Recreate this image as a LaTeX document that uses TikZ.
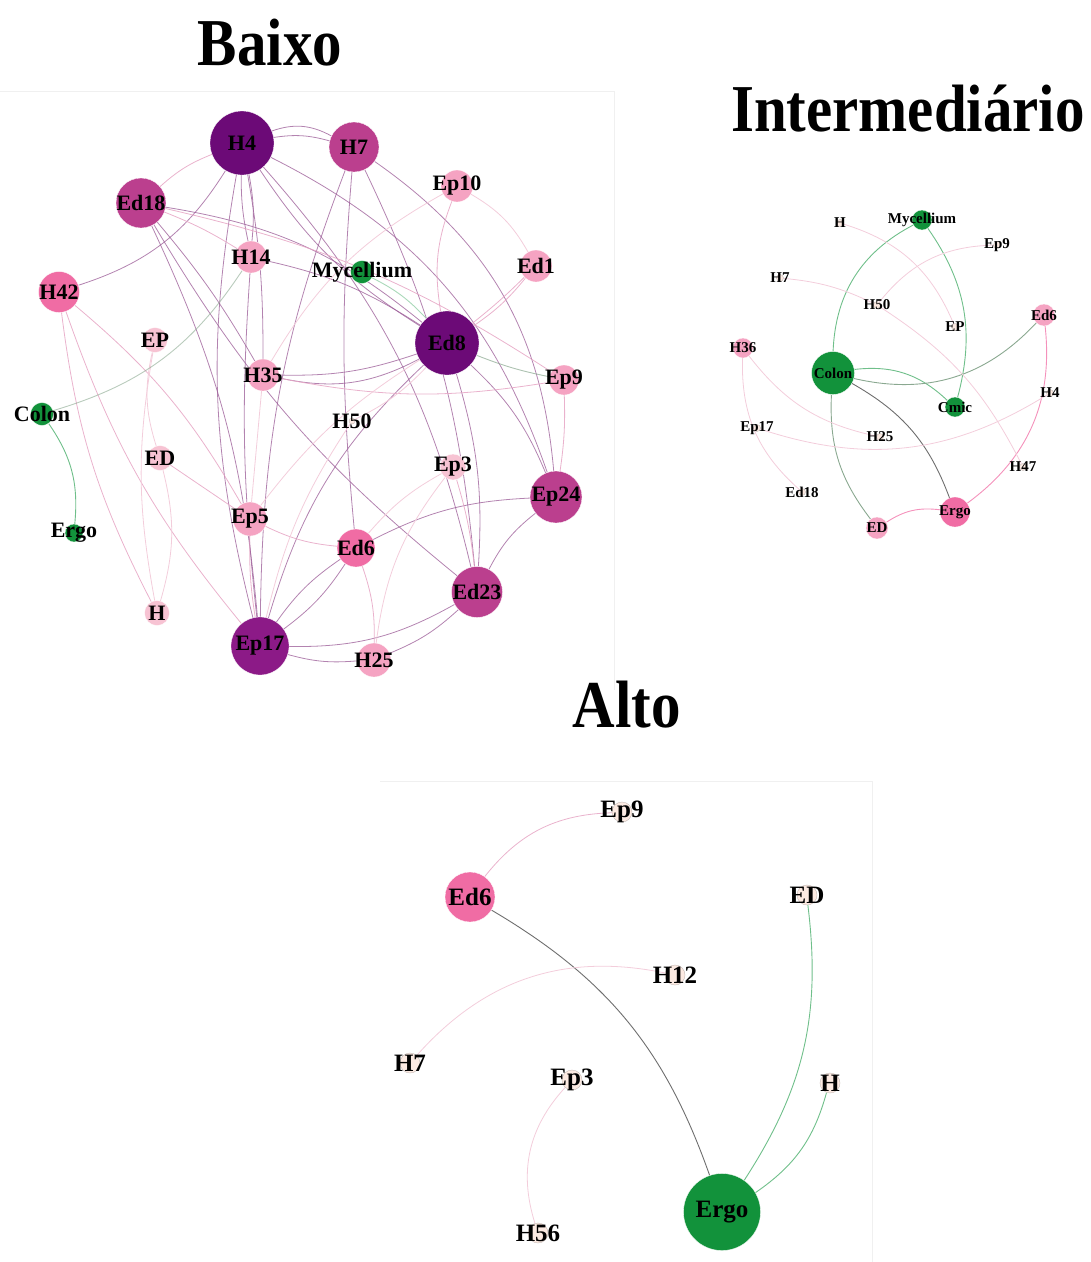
\documentclass[tikz,border=0pt]{standalone}
\usepackage{fontspec}
\setmainfont{Liberation Serif}
\usetikzlibrary{backgrounds}
\definecolor{Deep}{HTML}{6C0A77}
\definecolor{Plum}{HTML}{8C1A87}
\definecolor{Berry}{HTML}{BB3F8E}
\definecolor{Rose}{HTML}{F06CA4}
\definecolor{Pink}{HTML}{F5A3C2}
\definecolor{Blush}{HTML}{F7C3D3}
\definecolor{Leaf}{HTML}{12923B}
\definecolor{Peach}{HTML}{FCEAE2}
\definecolor{Wire}{HTML}{9A5A96}
\definecolor{SoftWire}{HTML}{E6A5C4}
\definecolor{FaintWire}{HTML}{F3CDDB}
\definecolor{LeafWire}{HTML}{6FBF8A}
\definecolor{MossWire}{HTML}{8AA890}
\definecolor{GreyWire}{HTML}{6E6E6E}
\definecolor{Frame}{HTML}{F0F0F0}
\tikzset{
 vert/.style={circle, inner sep=0pt, draw=white, line width=0.3pt},
 deep/.style={vert, fill=Deep},
 plum/.style={vert, fill=Plum},
 berry/.style={vert, fill=Berry},
 rose/.style={vert, fill=Rose},
 pink/.style={vert, fill=Pink},
 blush/.style={vert, fill=Blush},
 leaf/.style={vert, fill=Leaf},
 tiny/.style={vert, fill=Peach, draw=Peach!55!gray, line width=0.4pt},
 title/.style={font=\bfseries\fontsize{67}{67}\selectfont, inner sep=0pt},
 blab/.style={font=\bfseries\fontsize{22}{22}\selectfont, inner sep=0pt},
 ilab/.style={font=\bfseries\fontsize{15}{15}\selectfont, inner sep=0pt},
 alab/.style={font=\bfseries\fontsize{25}{25}\selectfont, inner sep=0pt},
 wire/.style={draw=Wire, line width=0.8pt, opacity=0.75},
 softwire/.style={draw=SoftWire, line width=0.8pt, opacity=0.85},
 faintwire/.style={draw=FaintWire, line width=0.8pt},
 leafwire/.style={draw=LeafWire, line width=0.9pt},
 mosswire/.style={draw=MossWire, line width=0.9pt},
 greywire/.style={draw=GreyWire, line width=0.9pt},
 rosewire/.style={draw=Rose!75, line width=0.9pt}
}
\begin{document}
\begin{tikzpicture}[x=1pt,y=1pt]
\useasboundingbox (0,0) rectangle (1091,-1262);
% panel frames
\draw[Frame] (0,-91) -- (614,-91) -- (614,-690);
\draw[Frame] (380,-781) -- (872,-781) -- (872,-1262);
% titles
\node[title] (tBaixo) at (270,-43) {\scalebox{0.88}[1]{Baixo}};
\node[title] (tInter) at (908,-109) {\scalebox{0.88}[1]{Intermediário}};
\node[title] (tAlto) at (627,-705) {\scalebox{0.88}[1]{Alto}};

% Baixo
\node[deep, minimum size=64, label={[blab]center:H4}] (bH4) at (242,-143) {};
\node[berry, minimum size=50, label={[blab]center:H7}] (bH7) at (354,-147) {};
\node[berry, minimum size=50, label={[blab]center:Ed18}] (bEd18) at (141,-203) {};
\node[pink, minimum size=32, label={[blab]center:Ep10}] (bEp10) at (457,-186) {};
\node[pink, minimum size=32, label={[blab]center:H14}] (bH14) at (251,-257) {};
\node[leaf, minimum size=23, label={[blab]center:Mycellium}] (bMyc) at (362,-272) {};
\node[pink, minimum size=32, label={[blab]center:Ed1}] (bEd1) at (536,-266) {};
\node[rose, minimum size=41, label={[blab]center:H42}] (bH42) at (59,-292) {};
\node[blush, minimum size=25, label={[blab]center:EP}] (bEP) at (155,-340) {};
\node[deep, minimum size=64, label={[blab]center:Ed8}] (bEd8) at (447,-343) {};
\node[pink, minimum size=32, label={[blab]center:H35}] (bH35) at (263,-375) {};
\node[pink, minimum size=30, label={[blab]center:Ep9}] (bEp9) at (564,-380) {};
\node[leaf, minimum size=23, label={[blab]center:Colon}] (bColon) at (42,-414) {};
\node[tiny, minimum size=6, label={[blab]center:H50}] (bH50) at (352,-421) {};
\node[blush, minimum size=25, label={[blab]center:ED}] (bED) at (160,-458) {};
\node[blush, minimum size=26, label={[blab]center:Ep3}] (bEp3) at (453,-467) {};
\node[berry, minimum size=52, label={[blab]center:Ep24}] (bEp24) at (556,-497) {};
\node[leaf, minimum size=18, label={[blab]center:Ergo}] (bErgo) at (74,-533) {};
\node[pink, minimum size=34, label={[blab]center:Ep5}] (bEp5) at (250,-519) {};
\node[rose, minimum size=38, label={[blab]center:Ed6}] (bEd6) at (356,-548) {};
\node[berry, minimum size=51, label={[blab]center:Ed23}] (bEd23) at (477,-592) {};
\node[blush, minimum size=25, label={[blab]center:H}] (bH) at (157,-613) {};
\node[plum, minimum size=58, label={[blab]center:Ep17}] (bEp17) at (260,-646) {};
\node[pink, minimum size=34, label={[blab]center:H25}] (bH25) at (374,-660) {};

\begin{scope}[on background layer]
\draw[wire] (bH4) to[bend left=12] (bH7); \draw[wire] (bH4) to[bend left=24] (bH7);
\draw[wire] (bH4) to[bend left=20] (bH42); \draw[wire] (bH4) to[bend right=6] (bH14);
\draw[wire] (bH4) to[bend left=8] (bH14); \draw[wire] (bH4) to[bend right=12] (bEd8);
\draw[wire] (bH4) to[bend left=22] (bEp24); \draw[wire] (bH4) to[bend left=14] (bEd23);
\draw[wire] (bH4) to[bend right=12] (bEp17); \draw[wire] (bH4) to[bend left=5] (bH35);
\draw[wire] (bH7) to[bend right=10] (bEp17); \draw[wire] (bH7) to[bend right=5] (bEd6);
\draw[wire] (bH7) to[bend left=10] (bEd23); \draw[wire] (bH7) to[bend left=25] (bEp24);
\draw[wire] (bEd18) to[bend left=15] (bEd8); \draw[wire] (bEd18) to[bend left=5] (bH35);
\draw[wire] (bEd18) to[bend left=10] (bEp17); \draw[wire] (bEd18) to[bend right=10] (bEd23);
\draw[wire] (bEd8) to[bend left=12] (bEp24); \draw[wire] (bEd8) to[bend left=10] (bEd23);
\draw[wire] (bEd8) to[bend left=10] (bH35); \draw[wire] (bEd8) to[bend left=20] (bH35);
\draw[wire] (bEd8) to[bend right=10] (bH14); \draw[wire] (bEd8) to[bend right=15] (bEp17);
\draw[wire] (bEp24) to[bend right=12] (bEd6); \draw[wire] (bEp24) to[bend right=12] (bEd23);
\draw[wire] (bEp17) to[bend right=10] (bEd6); \draw[wire] (bEp17) to[bend left=10] (bEd6);
\draw[wire] (bEp17) to[bend right=10] (bH25); \draw[wire] (bEp17) to[bend right=15] (bEd23);
\draw[wire] (bEp17) to[bend left=5] (bH14); \draw[wire] (bEd23) to[bend left=10] (bH25);
\draw[softwire] (bH4) to[bend right=10] (bEd18); \draw[softwire] (bEd18) to[bend left=10] (bEp9);
\draw[softwire] (bEd18) to[bend left=5] (bH14); \draw[softwire] (bH42) to[bend left=10] (bEp5);
\draw[softwire] (bH42) to[bend right=10] (bEp17); \draw[softwire] (bH42) to[bend right=10] (bH);
\draw[softwire] (bEp10) to[bend right=15] (bEd8); \draw[softwire] (bEp9) to[bend left=5] (bEp24);
\draw[softwire] (bEp9) to[bend left=10] (bH35); \draw[softwire] (bEp5) to[bend right=10] (bEd6);
\draw[softwire] (bEp5) to[bend right=5] (bEp17); \draw[softwire] (bED) to (bEp5);
\draw[softwire] (bEd6) to[bend left=10] (bH25); \draw[softwire] (bEp3) to[bend left=5] (bEd23);
\draw[softwire] (bEd1) to[bend left=8] (bEd8); \draw[softwire] (bEd1) to[bend left=3] (bEd8);
\draw[faintwire] (bEP) to[bend right=15] (bED); \draw[faintwire] (bEP) to[bend right=10] (bH);
\draw[faintwire] (bED) to[bend left=15] (bH); \draw[faintwire] (bEp10) to[bend left=15] (bEd1);
\draw[faintwire] (bEp10) to[bend right=15] (bH35); \draw[faintwire] (bEp3) to[bend right=10] (bEd6);
\draw[faintwire] (bEp3) to[bend right=15] (bH25); \draw[faintwire] (bEp5) to (bH35);
\draw[faintwire] (bH50) to[bend right=10] (bEd8); \draw[faintwire] (bH50) to[bend right=10] (bEp17);
\draw[faintwire] (bEd8) to[bend right=10] (bEp5);
\draw[leafwire] (bColon) to[bend left=20] (bErgo); \draw[mosswire, opacity=0.6] (bColon) to[bend right=20] (bH14);
\draw[leafwire, opacity=0.6] (bMyc) to[bend left=10] (bEd8); \draw[mosswire, opacity=0.7] (bEd8) to[bend right=5] (bEp9);
\end{scope}

% Intermediario
\node[tiny, minimum size=7, label={[ilab]center:H}] (iH) at (840,-223) {};
\node[leaf, minimum size=20, label={[ilab]center:Mycellium}] (iMyc) at (922,-220) {};
\node[tiny, minimum size=7, label={[ilab]center:Ep9}] (iEp9) at (997,-245) {};
\node[tiny, minimum size=7, label={[ilab]center:H7}] (iH7) at (780,-278) {};
\node[tiny, minimum size=7, label={[ilab]center:H50}] (iH50) at (877,-305) {};
\node[tiny, minimum size=7, label={[ilab]center:EP}] (iEP) at (955,-327) {};
\node[pink, minimum size=22, label={[ilab]center:Ed6}] (iEd6) at (1044,-315) {};
\node[pink, minimum size=20, label={[ilab]center:H36}] (iH36) at (743,-348) {};
\node[leaf, minimum size=43, label={[ilab]center:Colon}] (iColon) at (833,-373) {};
\node[leaf, minimum size=20, label={[ilab]center:Cmic}] (iCmic) at (955,-407) {};
\node[tiny, minimum size=7, label={[ilab]center:H4}] (iH4) at (1050,-393) {};
\node[tiny, minimum size=7, label={[ilab]center:Ep17}] (iEp17) at (757,-428) {};
\node[tiny, minimum size=7, label={[ilab]center:H25}] (iH25) at (880,-437) {};
\node[tiny, minimum size=7, label={[ilab]center:H47}] (iH47) at (1023,-467) {};
\node[tiny, minimum size=7, label={[ilab]center:Ed18}] (iEd18) at (802,-492) {};
\node[rose, minimum size=30, label={[ilab]center:Ergo}] (iErgo) at (955,-512) {};
\node[pink, minimum size=22, label={[ilab]center:ED}] (iED) at (877,-528) {};

\begin{scope}[on background layer]
\draw[leafwire] (iColon) to[bend left=30] (iMyc); \draw[leafwire] (iMyc) to[bend left=25] (iCmic);
\draw[leafwire] (iColon) to[bend left=25] (iCmic); \draw[mosswire] (iColon) to[bend right=30] (iEd6);
\draw[greywire] (iColon) to[bend left=20] (iErgo); \draw[mosswire] (iColon) to[bend right=20] (iED);
\draw[rosewire] (iED) to[bend left=20] (iErgo); \draw[rosewire] (iEd6) to[bend left=30] (iErgo);
\draw[faintwire] (iH36) to[bend right=25] (iEd18); \draw[faintwire] (iH36) to[bend right=20] (iH25);
\draw[faintwire] (iEp17) to[bend right=25] (iH4); \draw[faintwire] (iH) to[bend left=25] (iEP);
\draw[faintwire] (iH7) to[bend left=10] (iH50); \draw[faintwire] (iH50) to[bend left=15] (iH47);
\draw[faintwire] (iEp9) to[bend right=25] (iH50);
\end{scope}

% Alto
\node[tiny, minimum size=20, label={[alab]center:Ep9}] (aEp9) at (622,-812) {};
\node[rose, minimum size=50, label={[alab]center:Ed6}] (aEd6) at (470,-897) {};
\node[tiny, minimum size=20, label={[alab]center:ED}] (aED) at (807,-895) {};
\node[tiny, minimum size=20, label={[alab]center:H12}] (aH12) at (675,-975) {};
\node[tiny, minimum size=20, label={[alab]center:H7}] (aH7) at (410,-1063) {};
\node[tiny, minimum size=20, label={[alab]center:Ep3}] (aEp3) at (572,-1080) {};
\node[tiny, minimum size=20, label={[alab]center:H}] (aH) at (830,-1083) {};
\node[tiny, minimum size=20, label={[alab]center:H56}] (aH56) at (538,-1233) {};
\node[leaf, minimum size=77, label={[alab]center:Ergo}] (aErgo) at (722,-1212) {};

\begin{scope}[on background layer]
\draw[softwire] (aEd6) to[bend left=25] (aEp9); \draw[greywire] (aEd6) to[bend left=20] (aErgo);
\draw[faintwire] (aH7) to[bend left=30] (aH12); \draw[faintwire] (aEp3) to[bend right=30] (aH56);
\draw[leafwire] (aED) to[bend left=20] (aErgo); \draw[leafwire] (aH) to[bend left=20] (aErgo);
\end{scope}
\end{tikzpicture}
\end{document}
